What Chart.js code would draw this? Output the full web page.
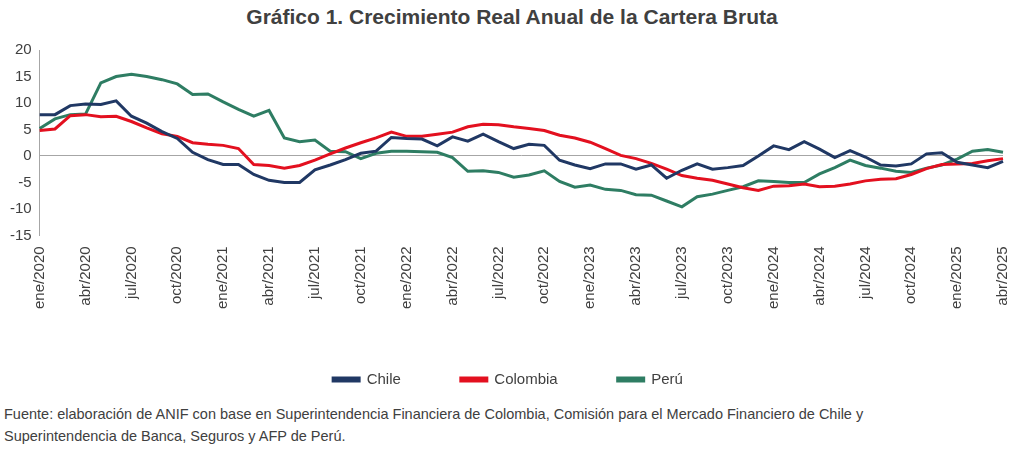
<!DOCTYPE html>
<html>
<head>
<meta charset="utf-8">
<script src="https://cdn.jsdelivr.net/npm/chart.js@4"></script>
<style>
  body { margin: 0; background: #fff; font-family: "Liberation Sans", Arial, sans-serif; }
  #title { text-align: center; font-weight: bold; font-size: 21px; color: #404040; margin-top: 5px; height: 28px; font-family: "Liberation Sans Narrow", "Liberation Sans", sans-serif; }
  #wrap { position: relative; width: 1024px; height: 364px; }
  #note { font-size: 14.5px; color: #404040; margin: 6px 0 0 4px; line-height: 22px; }
</style>
</head>
<body>
<div id="title">Gráfico 1. Crecimiento Real Anual de la Cartera Bruta</div>
<div id="wrap"><canvas id="chart"></canvas></div>
<div id="note">Fuente: elaboración de ANIF con base en Superintendencia Financiera de Colombia, Comisión para el Mercado Financiero de Chile y<br>Superintendencia de Banca, Seguros y AFP de Perú.</div>
<script>
const months = ['ene', 'feb', 'mar', 'abr', 'may', 'jun', 'jul', 'ago', 'sep', 'oct', 'nov', 'dic'];
const labels = [];
for (let y = 2020; y <= 2025; y++) {
    months.forEach((m, i) => {
        if (y < 2025 || i < 4) labels.push(m + '/' + y);
    });
}

const chile = [
    7.8, 7.8, 9.5, 9.8, 9.7, 10.4, 7.5, 6.2, 4.6, 3.3, 0.7, -0.7,
    -1.6, -1.6, -3.5, -4.6, -5, -5, -2.6, -1.7, -0.7, 0.5, 0.9, 3.5,
    3.3, 3.2, 1.9, 3.6, 2.8, 4.1, 2.7, 1.4, 2.2, 2, -0.8, -1.7,
    -2.4, -1.5, -1.5, -2.5, -1.7, -4.2, -2.7, -1.5, -2.5, -2.2, -1.8, 0,
    1.9, 1.2, 2.7, 1.3, -0.3, 1, -0.2, -1.7, -1.9, -1.5, 0.4, 0.6,
    -1.2, -1.7, -2.2, -1
];
const colombia = [
    4.8, 5.1, 7.6, 7.8, 7.4, 7.5, 6.5, 5.3, 4.2, 3.7, 2.5, 2.2,
    2, 1.4, -1.6, -1.8, -2.3, -1.8, -0.8, 0.4, 1.5, 2.5, 3.4, 4.5,
    3.7, 3.7, 4.1, 4.5, 5.5, 6, 5.9, 5.5, 5.2, 4.8, 3.9, 3.4,
    2.6, 1.4, 0.1, -0.5, -1.4, -2.5, -3.7, -4.2, -4.6, -5.3, -6, -6.5,
    -5.7, -5.6, -5.3, -5.8, -5.7, -5.3, -4.7, -4.4, -4.3, -3.5, -2.4, -1.6,
    -1.5, -1.4, -0.9, -0.5
];
const peru = [
    5.2, 7, 7.8, 7.9, 13.8, 15, 15.4, 15, 14.4, 13.6, 11.6, 11.7,
    10.2, 8.8, 7.5, 8.6, 3.4, 2.7, 3, 0.9, 0.8, -0.5, 0.5, 0.9,
    0.9, 0.8, 0.7, -0.3, -2.9, -2.8, -3.1, -4, -3.6, -2.8, -4.8, -5.9,
    -5.5, -6.3, -6.5, -7.3, -7.4, -8.5, -9.6, -7.7, -7.2, -6.5, -5.8, -4.7,
    -4.8, -5, -5, -3.4, -2.2, -0.8, -1.8, -2.3, -2.9, -3.1, -2.3, -1.7,
    -0.6, 0.9, 1.2, 0.7
];

const ds = (label, data, color) => ({
    label: label, data: data, borderColor: color, backgroundColor: color,
    borderWidth: 3, pointRadius: 0, tension: 0, fill: false
});

new Chart(document.getElementById('chart'), {
    type: 'line',
    data: {
        labels: labels,
        datasets: [
            ds('Chile', chile, '#203864'),
            ds('Colombia', colombia, '#e3101f'),
            ds('Perú', peru, '#2e7d63')
        ]
    },
    options: {
        responsive: true,
        maintainAspectRatio: false,
        animation: false,
        layout: { padding: { left: 2, right: 10, top: 14 } },
        plugins: {
            legend: {
                position: 'bottom',
                labels: {
                    boxWidth: 26, boxHeight: 3, padding: 60,
                    color: '#404040', font: { size: 15, family: 'Liberation Sans' }
                }
            },
            tooltip: { enabled: false }
        },
        scales: {
            x: {
                grid: { display: false },
                border: { display: false },
                ticks: {
                    autoSkip: false, maxRotation: 90, minRotation: 90,
                    color: '#404040', font: { size: 15, family: 'Liberation Sans' },
                    callback: function(v, i) { return i % 3 === 0 ? labels[i] : ''; }
                }
            },
            y: {
                min: -15, max: 20,
                border: { display: true, color: '#a6a6a6' },
                grid: {
                    drawTicks: false,
                    color: ctx => ctx.tick.value === 0 ? '#a6a6a6' : 'transparent'
                },
                ticks: {
                    stepSize: 5, padding: 8,
                    color: '#404040', font: { size: 15, family: 'Liberation Sans' }
                }
            }
        }
    }
});
</script>
</body>
</html>
